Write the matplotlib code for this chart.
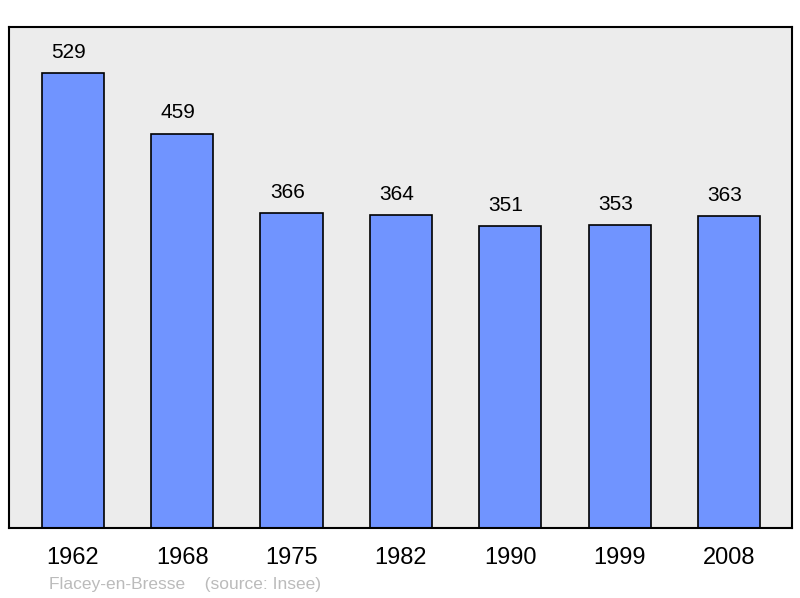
import matplotlib.pyplot as plt

plt.rcParams['font.family'] = ['Liberation Sans', 'DejaVu Sans']

years = ['1962', '1968', '1975', '1982', '1990', '1999', '2008']
population = [529, 459, 366, 364, 351, 353, 363]

fig = plt.figure(figsize=(8, 5.98), dpi=100)
ax = fig.add_axes([9 / 800, 1 - 528 / 598, 783 / 800, 501 / 598])
ax.set_facecolor('#ececec')

x = range(len(years))
ax.bar(x, population, width=0.57, color='#7094ff', edgecolor='black', linewidth=1.2, zorder=2)

for xi, val in zip(x, population):
    ax.annotate(str(val), (xi, val), xytext=(-3, 8), textcoords='offset points',
                ha='center', va='bottom', fontsize=15)

ax.set_xlim(-0.585, 6.576)
ax.set_ylim(0, 583)
ax.set_xticks(list(x))
ax.set_xticklabels(years, fontsize=17)
ax.tick_params(axis='x', length=0, pad=14)
ax.set_yticks([])
for s in ax.spines.values():
    s.set_linewidth(1.5)

fig.text(49 / 800, 1 - 584 / 598, 'Flacey-en-Bresse    (source: Insee)',
         color='#bbbbbb', fontsize=12.5, va='center', ha='left')

plt.savefig('out.png', dpi=100)
